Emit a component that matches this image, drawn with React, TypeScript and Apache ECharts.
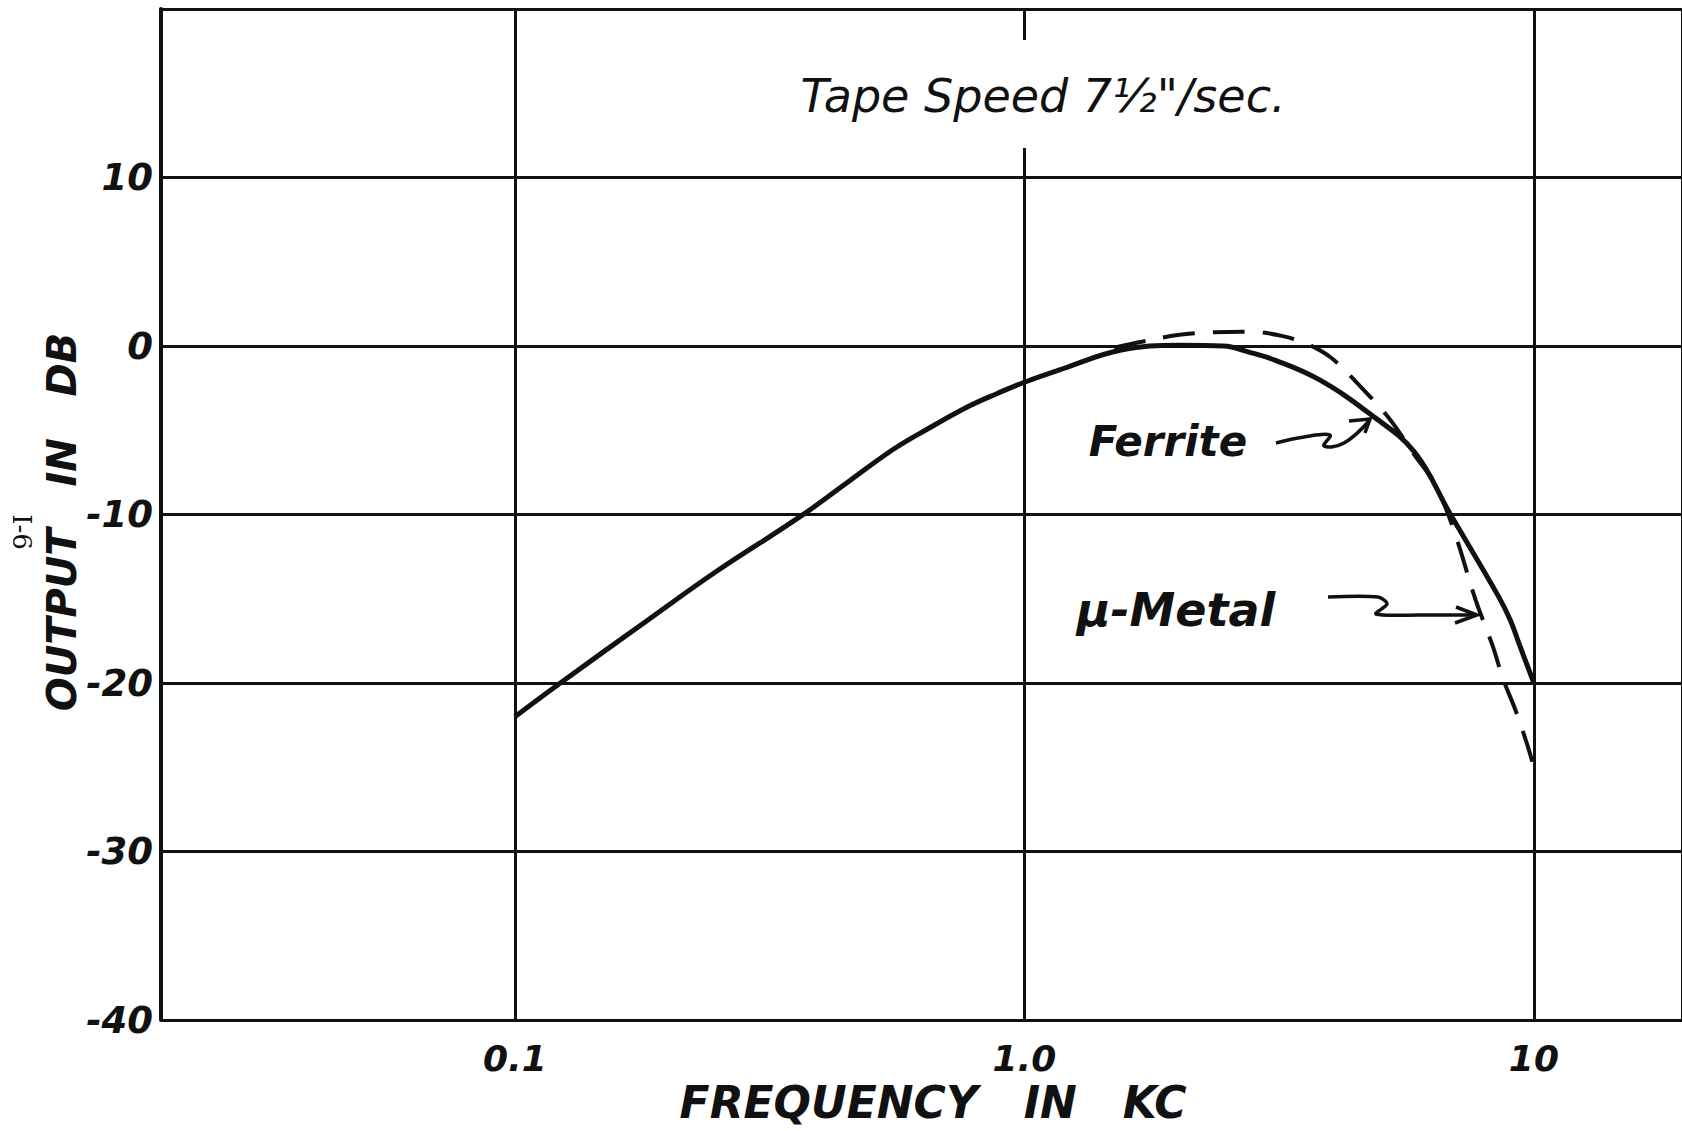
import React, { useEffect, useRef } from "react";
import * as echarts from "echarts";

// Axis ticks and labels
const xTickValues = [0.1, 1, 10];
const xTickLabels = ["0.1", "1.0", "10"];
const xMin = 0.0202;
const xMax = 19.53;
const yTickValues = [-40, -30, -20, -10, 0, 10];
const yTickLabels = ["-40", "-30", "-20", "-10", "0", "10"];
const yMin = -40;
const yMax = 20;
const yInterval = 10;

// Ferrite head (solid curve): frequency in kc, output in dB
const ferriteFreq = [0.1, 0.1228, 0.1836, 0.248, 0.364, 0.454, 0.555, 0.652, 0.781, 0.887, 1.0, 1.19, 1.54, 2.02, 2.46, 2.75, 3.11, 3.79, 4.8, 5.83, 6.83, 8.5, 9.0, 9.36, 10];
const ferriteDb = [-22.0, -20.0, -16.2, -13.4, -10.1, -8.0, -6.1, -4.85, -3.55, -2.8, -2.15, -1.35, -0.25, 0.05, 0.0, -0.35, -0.85, -2.0, -4.1, -6.3, -9.9, -14.8, -16.3, -17.7, -20.0];

// Mu-metal head (dashed curve)
const muMetalFreq = [1.5, 1.7, 2.0, 2.3, 2.75, 3.2, 3.6, 4.0, 4.5, 5.2, 5.84, 6.31, 6.69, 7.1, 7.67, 8.3, 8.71, 9.2, 9.69, 10];
const muMetalDb = [-0.1, 0.25, 0.65, 0.8, 0.85, 0.6, 0.1, -0.7, -2.2, -4.3, -6.5, -7.9, -9.5, -11.7, -15.0, -17.8, -19.8, -21.6, -23.6, -25.0];

const INK = "#111";
const FONT = "DejaVu Sans";

function lookupLabel(values: number[], labels: string[], v: number, log: boolean) {
  for (let i = 0; i < values.length; i++) {
    const a = log ? Math.log10(values[i]) : values[i];
    const b = log ? Math.log10(v) : v;
    if (Math.abs(a - b) < 1e-6) return labels[i];
  }
  return "";
}

export default function App() {
  const ref = useRef<HTMLDivElement>(null);
  useEffect(() => {
    if (!ref.current) return;
    const chart = echarts.init(ref.current, undefined, { renderer: "svg" });
    const ferrite = ferriteFreq.map((f, i) => [f, ferriteDb[i]]);
    const mu = muMetalFreq.map((f, i) => [f, muMetalDb[i]]);
    chart.setOption({
      animation: false,
      backgroundColor: "#ffffff",
      grid: { left: 161, right: -3, top: 9, bottom: 111, containLabel: false },
      xAxis: {
        type: "log",
        logBase: 10,
        min: xMin,
        max: xMax,
        axisLine: { show: true, lineStyle: { color: INK, width: 3 } },
        axisTick: { show: false },
        splitLine: { show: true, lineStyle: { color: INK, width: 3 } },
        minorSplitLine: { show: false },
        axisLabel: {
          margin: 20,
          color: INK,
          fontFamily: FONT,
          fontSize: 36,
          fontStyle: "italic",
          fontWeight: "bold",
          showMinLabel: false,
          showMaxLabel: false,
          formatter: (v: number) => lookupLabel(xTickValues, xTickLabels, v, true),
        },
      },
      yAxis: {
        type: "value",
        min: yMin,
        max: yMax,
        interval: yInterval,
        axisLine: { show: true, lineStyle: { color: INK, width: 4 } },
        axisTick: { show: false },
        splitLine: { show: true, lineStyle: { color: INK, width: 3 } },
        axisLabel: {
          margin: 8,
          color: INK,
          fontFamily: FONT,
          fontSize: 37,
          fontStyle: "italic",
          fontWeight: "bold",
          formatter: (v: number) => lookupLabel(yTickValues, yTickLabels, v, false),
        },
      },
      series: [
        {
          name: "Ferrite",
          type: "line",
          data: ferrite,
          showSymbol: false,
          smooth: 0.4,
          lineStyle: { color: INK, width: 5 },
          z: 5,
        },
        {
          name: "μ-Metal",
          type: "line",
          data: mu,
          showSymbol: false,
          smooth: 0.35,
          lineStyle: { color: INK, width: 4, type: [32, 18] },
          z: 6,
        },
      ],
      graphic: [
        { type: "rect", z: 50, shape: { x: 792, y: 40, width: 505, height: 108 }, style: { fill: "#ffffff" } },
        {
          type: "text", z: 60, x: 1043, y: 96,
          style: { text: "Tape Speed 7½\"/sec.", font: `italic 46px '${FONT}'`, fill: INK, align: "center", verticalAlign: "middle" },
        },
        {
          type: "text", z: 60, x: 1168, y: 441,
          style: { text: "Ferrite", font: `italic bold 42px '${FONT}'`, fill: INK, align: "center", verticalAlign: "middle" },
        },
        {
          type: "text", z: 60, x: 1176, y: 610,
          style: { text: "μ-Metal", font: `italic bold 46px '${FONT}'`, fill: INK, align: "center", verticalAlign: "middle" },
        },
        {
          type: "polyline", z: 60,
          shape: { points: [[1276, 443], [1304, 437], [1330, 435], [1324, 446], [1344, 443], [1370, 420]], smooth: 0.4 },
          style: { stroke: INK, lineWidth: 3.5, fill: "none" },
        },
        {
          type: "polyline", z: 60,
          shape: { points: [[1349, 421], [1370, 419], [1365, 433]] },
          style: { stroke: INK, lineWidth: 3.5, fill: "none" },
        },
        {
          type: "polyline", z: 60,
          shape: { points: [[1328, 597], [1378, 597], [1387, 604], [1376, 614], [1420, 615], [1476, 615]], smooth: 0.3 },
          style: { stroke: INK, lineWidth: 3.5, fill: "none" },
        },
        {
          type: "polyline", z: 60,
          shape: { points: [[1456, 607], [1477, 615], [1455, 623]] },
          style: { stroke: INK, lineWidth: 3.5, fill: "none" },
        },
        {
          type: "text", z: 60, x: 933, y: 1102,
          style: { text: "FREQUENCY   IN   KC", font: `italic bold 44px '${FONT}'`, fill: INK, align: "center", verticalAlign: "middle" },
        },
        {
          type: "text", z: 60, x: 62, y: 522, rotation: Math.PI / 2,
          style: { text: "OUTPUT   IN   DB", font: `italic bold 40px '${FONT}'`, fill: INK, align: "center", verticalAlign: "middle" },
        },
        {
          type: "text", z: 60, x: 22, y: 532, rotation: -Math.PI / 2,
          style: { text: "I-6", font: `26px 'DejaVu Serif'`, fill: INK, align: "center", verticalAlign: "middle" },
        },
      ],
    });
    return () => chart.dispose();
  }, []);
  return (
    <div
      ref={ref}
      style={{ position: "absolute", left: 0, top: 0, width: 1682, height: 1131, background: "#fff" }}
    />
  );
}
